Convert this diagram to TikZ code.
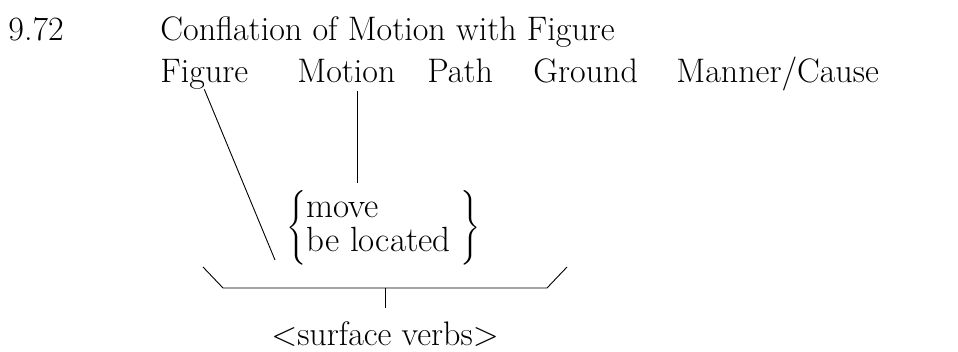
\documentclass[tikz,border=0pt]{standalone}
\usepackage{amsmath}
\usepackage{tikz}
\usetikzlibrary{calc}

\begin{document}
\begin{tikzpicture}[x=1pt, y=-1pt, line width=0.9pt,
    word/.style={inner sep=0pt, anchor=base west, font=\fontsize{34}{40}\selectfont}]
                \useasboundingbox (0,0) rectangle (958,351);

                % Heading
                \node[word] (num) at (8,40) {9.72};
                \node[word] (title) at (160,40) {Conflation of Motion with Figure};

                % Components
                \node[word] (fig) at (160,82) {Figure};
                \node[word] (mot) at (297,82) {Motion};
                \node[word] (path) at (427,82) {Path};
                \node[word] (grd) at (533,82) {Ground};
                \node[word] (mnr) at (676,82) {Manner/Cause};

                % Verbs
                \node[inner sep=0pt, anchor=north west, font=\fontsize{35}{40}\selectfont] (brc) at (286,190)
                    {$\left\{\renewcommand{\arraystretch}{0.82}\begin{tabular}{@{}l@{\hspace{10pt}}}move\\be located\end{tabular}\right\}$};
                \node[inner sep=0pt, anchor=base, font=\fontsize{34}{40}\selectfont] (verbs) at (385,345) {<surface verbs>};

                % Coordinates
                \coordinate (figend) at (275,260);
                \coordinate (mottop) at (357,91);
                \coordinate (motend) at (357,183);
                \coordinate (bl) at (203,267);
                \coordinate (bla) at (223,288);
                \coordinate (bra) at (547,288);
                \coordinate (br) at (567,267);
                \coordinate (bmid) at (385,288);
                \coordinate (tick) at (385,308);

                % Edges
                \draw (fig.south) -- (figend);
                \draw (mottop) -- (motend);
                \draw (bl) -- (bla) -- (bra) -- (br);
                \draw (bmid) -- (tick);
            \end{tikzpicture}
\end{document}
